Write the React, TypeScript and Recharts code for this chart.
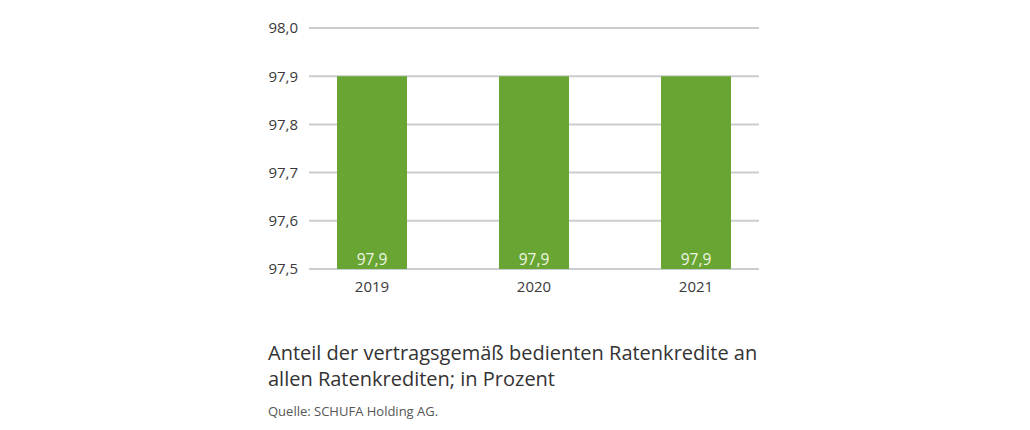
import React from 'react';
import { Bar, BarChart, CartesianGrid, LabelList, XAxis, YAxis } from 'recharts';

const years = ['2019', '2020', '2021'];
const shares = [97.9, 97.9, 97.9];
const yTicks = [97.5, 97.6, 97.7, 97.8, 97.9, 98.0];

const chartData = years.map((year, i) => ({ year, share: shares[i] }));

const fmt = (v: number) => v.toFixed(1).replace('.', ',');

const FONT = '"Open Sans", "Noto Sans", sans-serif';

// grid lines stop a bit short of the category bands on both sides
const GridLine = (props: any) => {
    const { x1, x2, y1, y2 } = props;
    return <line x1={x1 + 18} x2={x2 - 18} y1={y1} y2={y2} stroke="#c9cdd0" strokeWidth={2} />;
};

const App = () => {
    return (
        <div style={{ position: 'absolute', left: 0, top: 0, width: 1030, height: 430, background: '#fff', fontFamily: FONT }}>
            <BarChart
                width={1030}
                height={300}
                data={chartData}
                margin={{ top: 28, right: 253, left: 0, bottom: 0 }}
                barCategoryGap={46}
            >
                <CartesianGrid vertical={false} horizontal={GridLine} />
                <XAxis
                    dataKey="year"
                    axisLine={false}
                    tickLine={false}
                    height={31}
                    tickSize={0}
                    tickMargin={12}
                    tick={{ fill: '#3a3a3a', fontSize: 15, fontFamily: FONT }}
                />
                <YAxis
                    width={291}
                    domain={[97.5, 98.0]}
                    ticks={yTicks}
                    axisLine={false}
                    tickLine={false}
                    tickSize={0}
                    tickMargin={0}
                    tickFormatter={fmt}
                    tick={{ fill: '#3a3a3a', fontSize: 15, fontFamily: FONT, dx: 7 }}
                />
                <Bar dataKey="share" fill="#69a532" isAnimationActive={false}>
                    <LabelList
                        dataKey="share"
                        position="insideBottom"
                        offset={4}
                        formatter={(v: any) => fmt(Number(v))}
                        style={{ fill: '#eef6e2', fontSize: 15.5, fontFamily: FONT }}
                    />
                </Bar>
            </BarChart>
            <div style={{ position: 'absolute', left: 268, top: 340, fontSize: 20, lineHeight: '26px', color: '#333' }}>
                Anteil der vertragsgemäß bedienten Ratenkredite an
                <br />
                allen Ratenkrediten; in Prozent
            </div>
            <div style={{ position: 'absolute', left: 268, top: 402, fontSize: 13, color: '#555' }}>
                Quelle: SCHUFA Holding AG.
            </div>
        </div>
    );
};

export default App;
